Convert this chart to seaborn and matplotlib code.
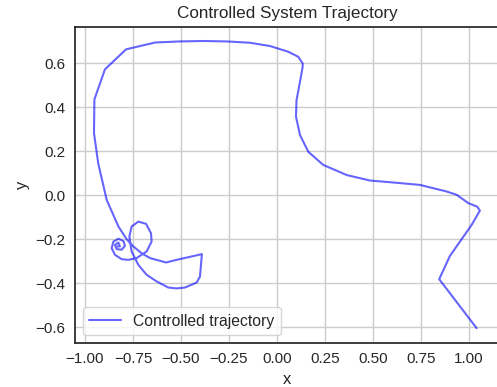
import matplotlib
matplotlib.use("Agg")
import matplotlib.pyplot as plt
import seaborn as sns
import pandas as pd

x_vals = [1.040, 0.845, 0.901, 1.014, 1.057, 1.043, 0.997, 0.936, 0.884, 0.745,
          0.606, 0.484, 0.363, 0.241, 0.163, 0.120, 0.099, 0.102, 0.120, 0.134,
          0.134, 0.111, 0.059, -0.036, -0.141, -0.262, -0.384, -0.505, -0.635, -0.786,
          -0.896, -0.951, -0.953, -0.931, -0.887, -0.826, -0.783, -0.748, -0.705, -0.661,
          -0.578, -0.523, -0.391, -0.401, -0.418, -0.479, -0.523, -0.566, -0.627, -0.679,
          -0.722, -0.757, -0.769, -0.757, -0.722, -0.682, -0.656, -0.653, -0.679, -0.731,
          -0.774, -0.809, -0.844, -0.861, -0.852, -0.826, -0.800, -0.792, -0.809, -0.835,
          -0.844, -0.826, -0.818, -0.832]
y_vals = [-0.605, -0.382, -0.276, -0.135, -0.070, -0.052, -0.036, 0.002, 0.017, 0.047,
          0.058, 0.067, 0.092, 0.138, 0.198, 0.274, 0.358, 0.433, 0.517, 0.585,
          0.600, 0.630, 0.653, 0.679, 0.694, 0.700, 0.702, 0.700, 0.695, 0.664,
          0.573, 0.436, 0.282, 0.145, -0.021, -0.142, -0.200, -0.233, -0.264, -0.286,
          -0.306, -0.294, -0.268, -0.370, -0.397, -0.420, -0.424, -0.420, -0.392, -0.362,
          -0.317, -0.256, -0.188, -0.142, -0.120, -0.130, -0.173, -0.211, -0.256, -0.286,
          -0.294, -0.291, -0.271, -0.241, -0.211, -0.198, -0.208, -0.230, -0.248, -0.245,
          -0.226, -0.215, -0.233, -0.233]

sns.set_style("white")
plt.rcParams['font.family'] = ['Liberation Sans', 'DejaVu Sans']

df = pd.DataFrame({"x": x_vals, "y": y_vals})

fig = plt.figure(figsize=(4.97, 3.87), dpi=100)
ax = fig.add_axes([0.1509, 0.1145, 0.8537, 0.8165])
sns.lineplot(data=df, x="x", y="y", sort=False, estimator=None, ax=ax,
             color="blue", alpha=0.6, linewidth=1.5, label="Controlled trajectory")
ax.grid(True, color="#cccccc", linewidth=1.0)
ax.set_xlim(-1.052, 1.158)
ax.set_ylim(-0.671, 0.767)
ax.set_xticks([-1.0, -0.75, -0.5, -0.25, 0.0, 0.25, 0.5, 0.75, 1.0])
ax.set_yticks([-0.6, -0.4, -0.2, 0.0, 0.2, 0.4, 0.6])
ax.set_xticklabels(["−1.00", "−0.75", "−0.50", "−0.25", "0.00", "0.25", "0.50", "0.75", "1.00"])
ax.set_yticklabels(["−0.6", "−0.4", "−0.2", "0.0", "0.2", "0.4", "0.6"])
ax.tick_params(labelsize=11)
ax.set_xlabel("x", fontsize=12)
ax.set_ylabel("y", fontsize=12)
ax.set_title("Controlled System Trajectory", fontsize=12.3)
ax.legend(loc="lower left", fontsize=11.3)
for s in ax.spines.values():
    s.set_color("#262626")
    s.set_linewidth(1.25)
fig.savefig("out.png", dpi=100)
